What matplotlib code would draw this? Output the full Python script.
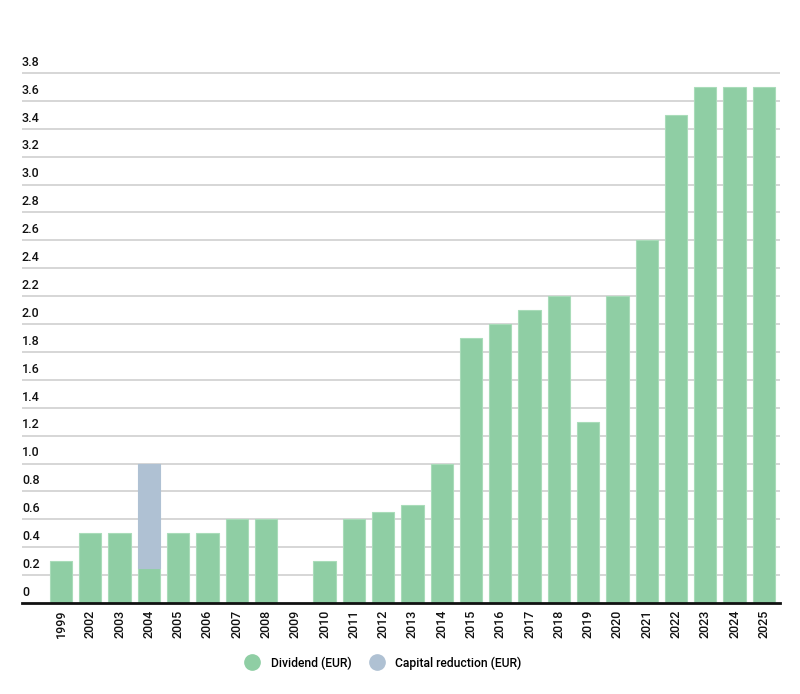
import matplotlib
matplotlib.use('Agg')
import matplotlib.pyplot as plt
from matplotlib.lines import Line2D
from matplotlib.transforms import blended_transform_factory, offset_copy
import numpy as np

plt.rcParams['font.family'] = ['Roboto', 'DejaVu Sans']

years = ['1999', '2002', '2003', '2004', '2005', '2006', '2007', '2008', '2009',
         '2010', '2011', '2012', '2013', '2014', '2015', '2016', '2017', '2018',
         '2019', '2020', '2021', '2022', '2023', '2024', '2025']
dividend = [0.30, 0.50, 0.50, 0.25, 0.50, 0.50, 0.60, 0.60, 0.0,
            0.30, 0.60, 0.65, 0.70, 1.00, 1.90, 2.00, 2.10, 2.20,
            1.30, 2.20, 2.60, 3.50, 3.70, 3.70, 3.70]
capital_reduction = [0, 0, 0, 0.75, 0, 0, 0, 0, 0,
                     0, 0, 0, 0, 0, 0, 0, 0, 0,
                     0, 0, 0, 0, 0, 0, 0]
yticks = [0, 0.2, 0.4, 0.6, 0.8, 1.0, 1.2, 1.4, 1.6, 1.8, 2.0,
          2.2, 2.4, 2.6, 2.8, 3.0, 3.2, 3.4, 3.6, 3.8]
ytick_labels = ['0', '0.2', '0.4', '0.6', '0.8', '1.0', '1.2', '1.4', '1.6', '1.8', '2.0',
                '2.2', '2.4', '2.6', '2.8', '3.0', '3.2', '3.4', '3.6', '3.8']

GREEN = '#8fcea4'
GREY = '#afc1d3'

fig = plt.figure(figsize=(8, 6.94), dpi=100)
ax = fig.add_axes([22 / 800, 91 / 694, 758 / 800, 544 / 694])

x = np.arange(len(years))
ax.bar(x, dividend, width=0.76, color=GREEN, edgecolor='#a9dcb9', linewidth=0.8, zorder=3)
# only the years that actually had a capital reduction get a visible segment
cap_edges = [GREY if v > 0 else 'none' for v in capital_reduction]
ax.bar(x, capital_reduction, bottom=dividend, width=0.76, color=GREY,
       edgecolor=cap_edges, linewidth=0.8, zorder=3)

ax.set_xlim(-1.33, len(years) - 0.45)
ax.set_ylim(0, 3.9)

# gridlines + labels sitting on top of them
for v in yticks[1:]:
    ax.axhline(v, color='#d6d6d6', lw=1.4, zorder=1)
trans = offset_copy(blended_transform_factory(ax.transAxes, ax.transData),
                    fig=fig, x=0, y=3, units='points')
for v, lab in zip(yticks, ytick_labels):
    ax.text(0, v, lab, transform=trans, ha='left', va='bottom',
            fontsize=9, fontweight='medium', color='#111111')

ax.set_yticks([])
ax.set_xticks(x)
ax.set_xticklabels(years, rotation=90, fontsize=9, fontweight='medium', color='#111111')
ax.tick_params(axis='x', length=0, pad=5)

for s in ['top', 'right', 'left']:
    ax.spines[s].set_visible(False)
ax.spines['bottom'].set_linewidth(2)
ax.spines['bottom'].set_color('#111111')
ax.spines['bottom'].set_zorder(4)

handles = [
    Line2D([], [], marker='o', linestyle='none', markersize=11,
           markerfacecolor=GREEN, markeredgecolor=GREEN, label='Dividend (EUR)'),
    Line2D([], [], marker='o', linestyle='none', markersize=11,
           markerfacecolor=GREY, markeredgecolor=GREY, label='Capital reduction (EUR)'),
]
fig.legend(handles=handles, loc='center', bbox_to_anchor=(0.476, 1 - 663 / 694),
           ncol=2, frameon=False,
           prop={'weight': 'medium', 'size': 8.7},
           handletextpad=0.5, columnspacing=1.1)

fig.savefig('out.png', dpi=100, facecolor='white')
